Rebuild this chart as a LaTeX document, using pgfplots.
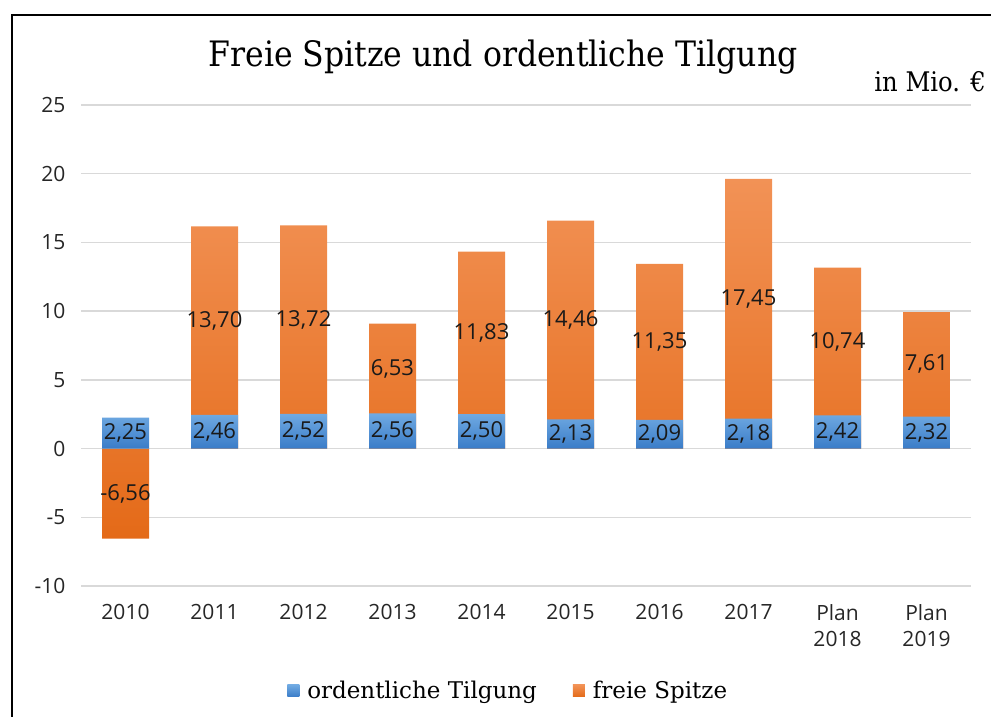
\documentclass[border=0pt]{standalone}
\usepackage{pgfplots}
\pgfplotsset{compat=1.18}
\usepackage{pgfplotstable}
\usepackage{fontspec}
\setmainfont{Open Sans}
\newfontfamily\slab{DejaVu Serif}
\newfontfamily\slabc{DejaVu Serif Condensed}
\definecolor{bluetop}{RGB}{112,170,226}
\definecolor{bluebot}{RGB}{58,124,200}
\definecolor{orgtop}{RGB}{242,146,86}
\definecolor{orgbot}{RGB}{228,106,24}
\definecolor{gridc}{RGB}{217,217,217}

% b = ordentliche Tilgung, o = freie Spitze
\pgfplotstableread{
x b o
0 2.25 -6.56
1 2.46 13.70
2 2.52 13.72
3 2.56 6.53
4 2.50 11.83
5 2.13 14.46
6 2.09 11.35
7 2.18 17.45
8 2.42 10.74
9 2.32 7.61
}\data

\begin{document}
\begin{tikzpicture}
\useasboundingbox (0,0) rectangle (991bp,717bp);
\begin{axis}[
  at={(81bp,131bp)}, anchor=south west,
  scale only axis, width=890bp, height=481bp,
  xmin=-0.5, xmax=9.5, ymin=-10, ymax=25,
  ytick={-10,-5,...,25},
  xtick={0,...,9},
  xticklabels={2010,2011,2012,2013,2014,2015,2016,2017,{Plan\\2018},{Plan\\2019}},
  axis line style={draw=none},
  major tick style={draw=none},
  ymajorgrids, grid style={gridc, line width=1.5bp},
  tick label style={font=\fontsize{21bp}{26bp}\selectfont, text=black!85},
  xticklabel style={align=center, yshift=-15bp},
  yticklabel style={xshift=-12bp},
  /pgf/number format/assume math mode=true,
  clip=false,
  reverse legend,
  legend columns=2,
  legend style={draw=none, at={(0.48,-0.218)}, anchor=center,
    font=\slab\fontsize{23bp}{27bp}\selectfont,
    /tikz/every odd column/.append style={column sep=6bp},
    /tikz/every even column/.append style={column sep=34bp}},
  every node near coord/.append style={anchor=center, text=black!90,
    font=\fontsize{22bp}{26bp}\selectfont},
  nodes near coords={\pgfmathprintnumber[fixed,fixed zerofill,precision=2,use comma,assume math mode=true]{\pgfplotspointmeta}},
]
% freie Spitze, drawn behind, from zero to the top of the stack
\addplot[ybar, bar width=47bp, bar shift=0pt, draw=none,
  top color=orgtop, bottom color=orgbot, nodes near coords={},
  legend image code/.code={\shade[top color=orgtop, bottom color=orgbot] (0bp,-6bp) rectangle (12bp,6bp);}]
  table[x=x, y expr={ifthenelse(\thisrow{o}>0,\thisrow{o}+\thisrow{b},\thisrow{o})}]{\data};
\addlegendentry{freie Spitze}
% ordentliche Tilgung
\addplot[ybar, bar width=47bp, bar shift=0pt, draw=none,
  top color=bluetop, bottom color=bluebot, nodes near coords={},
  legend image code/.code={\shade[top color=bluetop, bottom color=bluebot] (0bp,-6bp) rectangle (12bp,6bp);}]
  table[x=x, y=b]{\data};
\addlegendentry{ordentliche Tilgung}
% labels
\addplot[draw=none, mark=none, forget plot, point meta=explicit]
  table[x=x, y expr={0.5*\thisrow{b}}, meta=b]{\data};
\addplot[draw=none, mark=none, forget plot, point meta=explicit]
  table[x=x, y expr={ifthenelse(\thisrow{o}>0,\thisrow{b}+0.5*\thisrow{o},0.5*\thisrow{o})}, meta=o]{\data};
\end{axis}
\draw[line width=1.5bp] (12bp,0) -- (12bp,702bp) -- (991bp,702bp);
\node[inner sep=0, font=\slabc\fontsize{35bp}{40bp}\selectfont] at (503bp,660bp) {Freie Spitze und ordentliche Tilgung};
\node[inner sep=0, anchor=east, font=\slabc\fontsize{27bp}{32bp}\selectfont] at (986bp,635bp) {in Mio. €};
\end{tikzpicture}
\end{document}
